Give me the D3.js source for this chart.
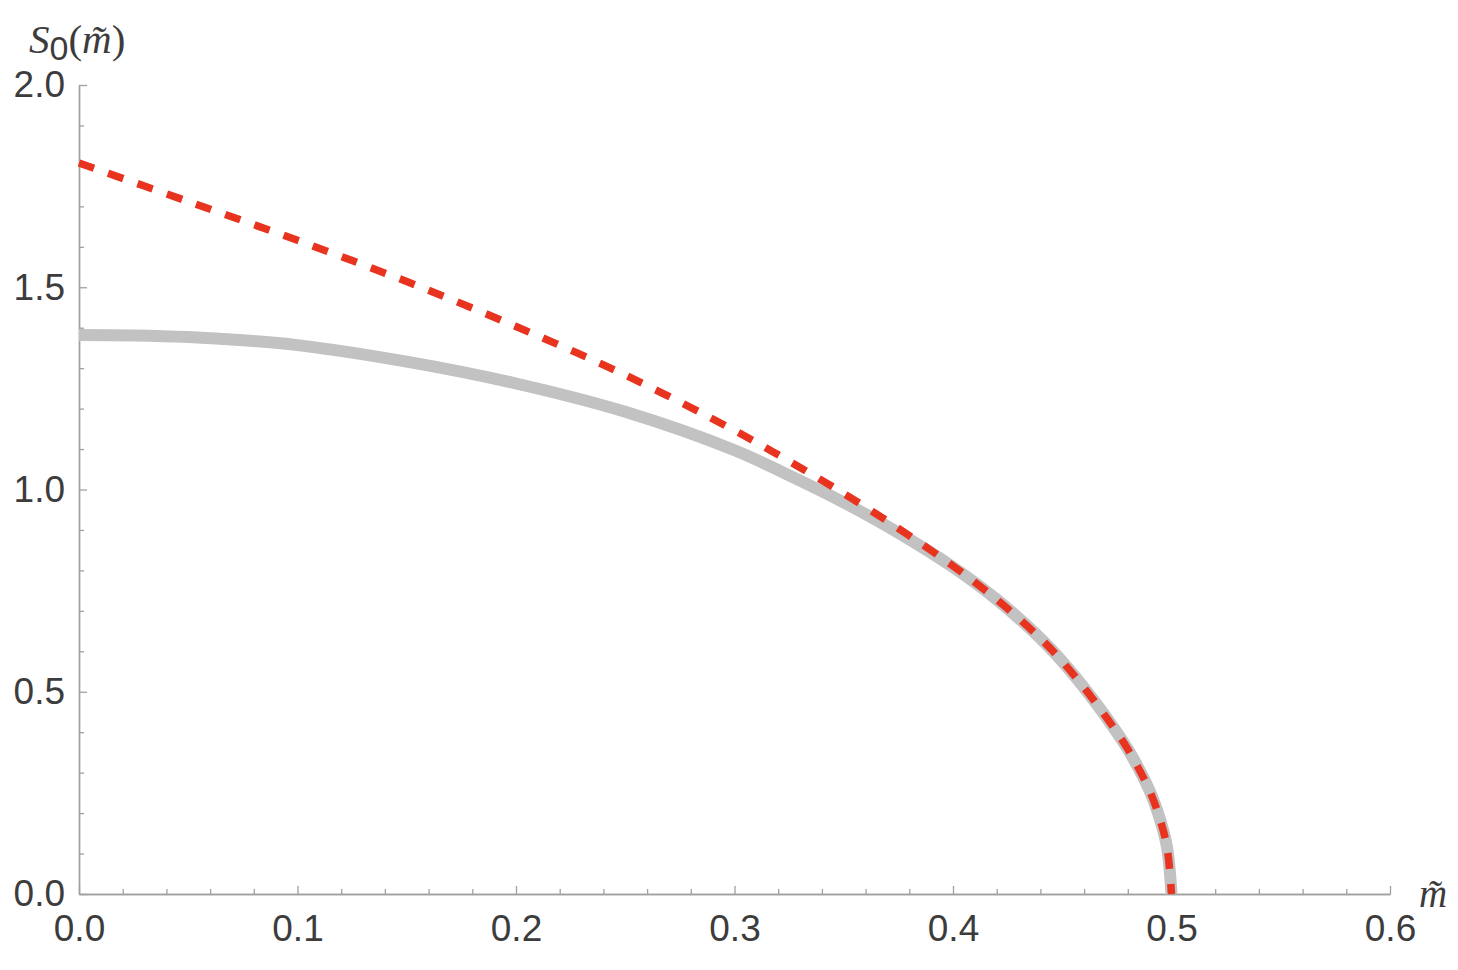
<!DOCTYPE html>
<html>
<head>
<meta charset="utf-8">
<script src="https://cdn.jsdelivr.net/npm/d3@7"></script>
<style>
  body { margin: 0; background: #fff; }
  svg { display: block; }
</style>
</head>
<body>
<div id="app"></div>
<script>
const WIDTH = 1458;
const HEIGHT = 970;

// gray solid curve
const grayM = [0, 0.025, 0.05, 0.075, 0.1, 0.15, 0.2, 0.25, 0.3, 0.325, 0.35, 0.375, 0.4, 0.42, 0.44, 0.45, 0.46, 0.47, 0.48, 0.49, 0.495, 0.498, 0.5];
const grayS = [1.382, 1.381, 1.377, 1.369, 1.357, 1.316, 1.262, 1.192, 1.097, 1.035, 0.968, 0.893, 0.808, 0.728, 0.632, 0.575, 0.510, 0.438, 0.358, 0.255, 0.18, 0.114, 0];

// red dashed curve
const redM = [0, 0.05, 0.1, 0.15, 0.2, 0.25, 0.3, 0.325, 0.35, 0.375, 0.4, 0.42, 0.44, 0.45, 0.46, 0.47, 0.48, 0.49, 0.495, 0.498, 0.5];
const redS = [1.807, 1.712, 1.616, 1.514, 1.403, 1.283, 1.146, 1.07, 0.99, 0.904, 0.811, 0.728, 0.632, 0.575, 0.510, 0.438, 0.358, 0.255, 0.18, 0.114, 0];

const xTicks = [0, 0.1, 0.2, 0.3, 0.4, 0.5, 0.6];
const yTicks = [0, 0.5, 1.0, 1.5, 2.0];
const xMinor = d3.range(0, 0.6001, 0.02).filter(v => Math.abs(v * 10 - Math.round(v * 10)) > 1e-6);
const yMinor = d3.range(0, 2.0001, 0.1).filter(v => Math.abs(v * 2 - Math.round(v * 2)) > 1e-6);

const x = d3.scaleLinear().domain([0, 0.6]).range([79, 1390]);
const y = d3.scaleLinear().domain([0, 2]).range([894, 85]);

const svg = d3.select('#app')
  .append('svg')
  .attr('width', WIDTH)
  .attr('height', HEIGHT);

const axisColor = '#a0a0a0';
const labelColor = '#3c3c3c';
const tickFont = '"Liberation Sans", Arial, sans-serif';

function styleAxis(g) {
  g.select('.domain').attr('stroke', axisColor).attr('stroke-width', 1.4);
  g.selectAll('.tick line').attr('stroke', axisColor).attr('stroke-width', 1.3);
  g.selectAll('.tick text')
    .attr('fill', labelColor)
    .attr('font-family', tickFont)
    .attr('font-size', '37px');
}

// minor ticks first (no labels)
svg.append('g')
  .attr('transform', `translate(0,${y(0)})`)
  .call(d3.axisBottom(x).tickValues(xMinor).tickSize(-5).tickSizeOuter(0).tickFormat(''))
  .call(styleAxis);

svg.append('g')
  .attr('transform', `translate(${x(0)},0)`)
  .call(d3.axisLeft(y).tickValues(yMinor).tickSize(-5).tickSizeOuter(0).tickFormat(''))
  .call(styleAxis);

// major ticks with labels
svg.append('g')
  .attr('transform', `translate(0,${y(0)})`)
  .call(d3.axisBottom(x).tickValues(xTicks).tickSize(-8).tickSizeOuter(0).tickPadding(21).tickFormat(d3.format('.1f')))
  .call(styleAxis);

svg.append('g')
  .attr('transform', `translate(${x(0)},0)`)
  .call(d3.axisLeft(y).tickValues(yTicks).tickSize(-8).tickSizeOuter(0).tickPadding(14).tickFormat(d3.format('.1f')))
  .call(styleAxis);

// curves (centripetal catmull-rom keeps the vertical end smooth)
const line = d3.line()
  .x(d => x(d[0]))
  .y(d => y(d[1]))
  .curve(d3.curveCatmullRom.alpha(0.5));

svg.append('path')
  .datum(d3.zip(grayM, grayS))
  .attr('d', line)
  .attr('fill', 'none')
  .attr('stroke', '#c2c2c2')
  .attr('stroke-width', 12);

svg.append('path')
  .datum(d3.zip(redM, redS))
  .attr('d', line)
  .attr('fill', 'none')
  .attr('stroke', '#e8331f')
  .attr('stroke-width', 7.5)
  .attr('stroke-dasharray', '16,15');

// axis labels
const serif = '"Liberation Serif", "Times New Roman", serif';

const yLab = svg.append('text')
  .attr('x', 29)
  .attr('y', 53)
  .attr('fill', labelColor)
  .attr('font-family', serif)
  .attr('font-size', '41px');
yLab.append('tspan').attr('font-style', 'italic').text('S');
yLab.append('tspan').attr('font-family', tickFont).attr('font-size', '34px').attr('dy', 7).text('0');
yLab.append('tspan').attr('dy', -7).text('(');
yLab.append('tspan').attr('font-style', 'italic').text('m\u0303');
yLab.append('tspan').text(')');

svg.append('text')
  .attr('x', 1419)
  .attr('y', 907)
  .attr('fill', labelColor)
  .attr('font-family', serif)
  .attr('font-style', 'italic')
  .attr('font-size', '39px')
  .text('m\u0303');
</script>
</body>
</html>
